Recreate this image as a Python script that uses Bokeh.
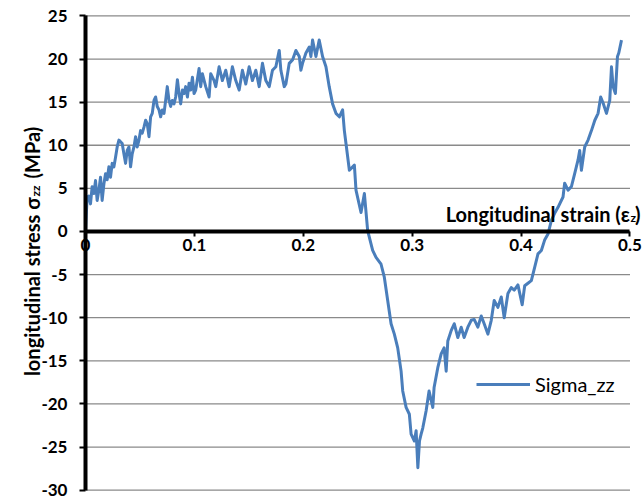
from math import pi
from bokeh.plotting import figure
from bokeh.models import (FixedTicker, NumeralTickFormatter, Label, Legend,
                          LegendItem, Range1d)
from bokeh.embed import file_html
from bokeh.resources import INLINE

# ---------------- data ----------------
x_ticks = [0, 0.1, 0.2, 0.3, 0.4, 0.5]
y_ticks = [-30, -25, -20, -15, -10, -5, 0, 5, 10, 15, 20, 25]

strain_rise = [0.0000, 0.0015, 0.0030, 0.0046, 0.0061, 0.0077, 0.0092, 0.0107, 0.0123, 0.0138,
               0.0153, 0.0169, 0.0184, 0.0199, 0.0215, 0.0230, 0.0245, 0.0261, 0.0276, 0.0291,
               0.0307, 0.0322, 0.0337, 0.0353, 0.0368, 0.0383, 0.0399, 0.0414, 0.0429, 0.0445,
               0.0460, 0.0475, 0.0491, 0.0506, 0.0521, 0.0537, 0.0552, 0.0567, 0.0583, 0.0598,
               0.0613, 0.0629, 0.0644, 0.0659, 0.0675, 0.0690, 0.0705, 0.0721, 0.0736, 0.0751,
               0.0767, 0.0782, 0.0797, 0.0813, 0.0828, 0.0844, 0.0859, 0.0874, 0.0890, 0.0905,
               0.0920, 0.0936, 0.0951, 0.0966, 0.0982, 0.0997]
stress_rise = [0.0, 4.0, 4.1, 3.2, 5.2, 4.4, 5.9, 3.6, 4.8, 6.3,
               3.6, 5.5, 6.7, 6.0, 7.5, 6.3, 7.9, 7.5, 8.6, 9.8,
               10.6, 10.4, 10.2, 9.0, 7.9, 9.4, 9.8, 7.5, 9.0, 9.8,
               11.0, 9.8, 10.6, 11.7, 11.4, 12.1, 12.9, 12.5, 11.0, 13.3,
               13.7, 15.2, 15.6, 14.5, 14.1, 13.3, 14.1, 13.7, 15.2, 16.8,
               15.2, 14.5, 15.2, 14.8, 15.6, 17.6, 16.0, 14.8, 16.4, 16.0,
               16.8, 15.6, 17.2, 16.4, 17.9, 16.0]

strain_plateau = [0.1012, 0.1043, 0.1058, 0.1073, 0.1104, 0.1135, 0.1150, 0.1181, 0.1196, 0.1227,
                  0.1257, 0.1288, 0.1319, 0.1349, 0.1380, 0.1411, 0.1441, 0.1472, 0.1503, 0.1533,
                  0.1564, 0.1595, 0.1625, 0.1656, 0.1687, 0.1717, 0.1748, 0.1779, 0.1794, 0.1825,
                  0.1840, 0.1871, 0.1901, 0.1932, 0.1963, 0.1978, 0.1993, 0.2024, 0.2055, 0.2070,
                  0.2085, 0.2116, 0.2146, 0.2177, 0.2208, 0.2238, 0.2269]
stress_plateau = [16.4, 18.9, 16.8, 18.3, 16.8, 15.6, 18.3, 17.5, 16.8, 19.1,
                  17.5, 18.7, 16.8, 19.1, 17.5, 16.4, 18.7, 17.1, 19.1, 17.5,
                  18.7, 16.8, 19.5, 17.5, 16.8, 18.7, 19.1, 21.0, 18.7, 16.8,
                  17.1, 19.5, 19.9, 21.0, 20.3, 18.7, 19.5, 20.7, 21.4, 20.3,
                  22.2, 20.3, 22.2, 20.3, 19.1, 16.8, 14.8]

strain_drop = [0.2300, 0.2331, 0.2361, 0.2377, 0.2392, 0.2423, 0.2469, 0.2484, 0.2530, 0.2561,
               0.2591, 0.2637, 0.2668, 0.2714, 0.2744, 0.2775, 0.2806, 0.2836, 0.2867, 0.2898,
               0.2913, 0.2944, 0.2974, 0.2990, 0.3020, 0.3036, 0.3052]
stress_drop = [13.7, 13.3, 14.1, 11.7, 10.2, 7.1, 7.7, 4.8, 2.2, 4.4,
               0.1, -2.2, -3.0, -3.8, -5.3, -8.0, -10.7, -11.9, -13.5, -16.2,
               -18.5, -20.4, -21.2, -23.5, -24.3, -23.1, -27.4]

strain_recover = [0.3067, 0.3082, 0.3097, 0.3128, 0.3155, 0.3189, 0.3201, 0.3235, 0.3266, 0.3293,
                  0.3312, 0.3327, 0.3358, 0.3386, 0.3419, 0.3450, 0.3477, 0.3511, 0.3542, 0.3569,
                  0.3603, 0.3634, 0.3661, 0.3695, 0.3726, 0.3753, 0.3787, 0.3818, 0.3845, 0.3879,
                  0.3910, 0.3937, 0.3971, 0.4010, 0.4033, 0.4063, 0.4094]
stress_recover = [-24.3, -23.5, -22.8, -20.8, -18.5, -20.4, -18.1, -15.8, -14.2, -13.5,
                  -16.2, -12.7, -11.5, -10.7, -12.3, -11.1, -12.3, -11.1, -10.3, -10.2,
                  -11.1, -9.8, -10.7, -11.9, -10.3, -8.0, -8.8, -7.6, -10.0, -7.2,
                  -6.5, -6.8, -6.2, -8.5, -6.3, -6.0, -5.7]

strain_final = [0.4124, 0.4155, 0.4186, 0.4216, 0.4247, 0.4278, 0.4308, 0.4339, 0.4385, 0.4400,
                0.4431, 0.4462, 0.4492, 0.4523, 0.4538, 0.4554, 0.4584, 0.4615, 0.4646, 0.4677,
                0.4707, 0.4731, 0.4753, 0.4784, 0.4814, 0.4830, 0.4845, 0.4866, 0.4885, 0.4897,
                0.4922]
stress_final = [-4.2, -2.6, -2.2, -1.0, -0.3, 1.3, 2.1, 2.8, 4.0, 5.6,
                4.8, 5.2, 6.7, 8.3, 9.4, 7.1, 9.8, 10.6, 11.7, 12.9,
                13.7, 15.6, 14.9, 13.7, 15.2, 19.1, 16.8, 16.0, 20.3, 20.7,
                22.2]

strain = strain_rise + strain_plateau + strain_drop + strain_recover + strain_final
stress = stress_rise + stress_plateau + stress_drop + stress_recover + stress_final

# ---------------- figure ----------------
FONT = "Lato"
W, H = 643, 503
# the frame fills the whole canvas; the ranges are widened so that the
# plotting box (0..0.5, -30..25) lands where it sits in the reference
p = figure(width=W, height=H, output_backend="svg", toolbar_location=None,
           x_range=Range1d(-0.07805, 0.51240), y_range=Range1d(-31.55, 26.79),
           min_border=0)
p.outline_line_color = None
p.background_fill_color = "white"
p.border_fill_color = "white"

p.xgrid.visible = False
p.ygrid.visible = False
# horizontal gridlines across the plotting box only
p.segment(x0=[x_ticks[0]] * len(y_ticks), x1=[x_ticks[-1]] * len(y_ticks),
          y0=y_ticks, y1=y_ticks, line_color="#8A8A8A", line_width=1.3)

r = p.line(strain, stress, line_color="#4A7EBB", line_width=3, line_join="round")

xa = p.xaxis[0]
ya = p.yaxis[0]
xa.ticker = FixedTicker(ticks=x_ticks)
xa.formatter = NumeralTickFormatter(format="0.[0]")
xa.fixed_location = 0
xa.bounds = (x_ticks[0], x_ticks[-1])
ya.ticker = FixedTicker(ticks=y_ticks)
ya.formatter = NumeralTickFormatter(format="0")
ya.fixed_location = 0
ya.bounds = (y_ticks[0], y_ticks[-1])

for ax in (xa, ya):
    ax.axis_line_width = 4
    ax.axis_line_color = "black"
    ax.major_tick_line_width = 2
    ax.major_tick_line_color = "black"
    ax.minor_tick_line_color = None
    ax.major_tick_in = 0
    ax.major_label_text_font = FONT
    ax.major_label_text_font_style = "bold"
    ax.major_label_text_font_size = "17px"
    ax.major_label_text_color = "black"

xa.major_tick_out = 5
xa.major_label_standoff = 3
ya.major_tick_out = 6
ya.major_label_standoff = 12

# ---------------- axis titles (with subscripts) ----------------
def lab(text, x, y, size, align, angle=0.0, style="bold"):
    # screen units: x from the left edge, y from the bottom edge
    return Label(x=x, y=y, x_units="screen", y_units="screen", text=text,
                 angle=angle, text_align=align, text_baseline="alphabetic",
                 text_font=FONT, text_font_style=style, text_font_size=size,
                 text_color="black")

# y title (reads bottom to top)
p.add_layout(lab("longitudinal stress σ", 31.5, H - 197, "20px", "right", pi / 2))
p.add_layout(lab("zz", 35, H - 196, "12px", "left", pi / 2))
p.add_layout(lab("(MPa)", 31.5, H - 178, "20px", "left", pi / 2))

# x title
p.add_layout(lab("Longitudinal strain (ε", 629, H - 213.5, "20px", "right"))
p.add_layout(lab("z", 630, H - 217, "12px", "left"))
p.add_layout(lab(")", 634.5, H - 213.5, "20px", "left"))

# ---------------- legend ----------------
legend = Legend(items=[LegendItem(label="Sigma_zz", renderers=[r])],
                location=(476, H - 396), padding=0, margin=0,
                border_line_color=None, background_fill_alpha=0,
                glyph_width=54, glyph_height=20, label_height=20,
                label_standoff=5, spacing=0,
                label_text_font=FONT, label_text_font_size="20px",
                label_text_color="black")
p.add_layout(legend)

open("out.html", "w").write(file_html(p, INLINE))
